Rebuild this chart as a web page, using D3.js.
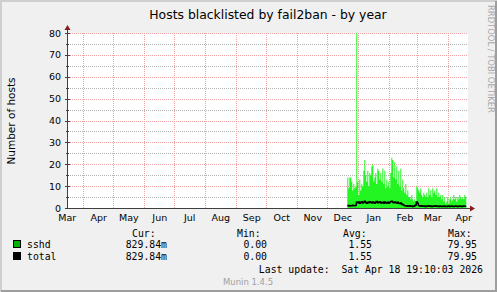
<!DOCTYPE html>
<html>
<head>
<meta charset="utf-8">
<script src="https://cdn.jsdelivr.net/npm/d3@7"></script>
<style>
  body { margin: 0; background: #f0f0f0; }
  svg { display: block; }
</style>
</head>
<body>
<div id="chart"></div>
<script>
const WIDTH = 497;
const HEIGHT = 292;
const PLOT_LEFT = 67;
const PLOT_RIGHT = 467;
const PLOT_TOP = 33;
const PLOT_BOTTOM = 208;
const SANS = "DejaVu Sans, sans-serif";
const MONO = "DejaVu Sans Mono, monospace";

// time window of the munin "by year" graph (400 days)
const startDate = new Date(2025, 2, 15, 17, 0);
const endDate = new Date(2026, 3, 19, 17, 0);
const firstSample = new Date(2025, 11, 21);

// one value per day, from firstSample on
const sshdValues = [
  14, 9, 14, 14, 12, 8, 11, 9, 10, 80,
  12, 6, 13, 8, 11, 10, 17, 22, 15, 12,
  17, 10, 16, 15, 19, 20, 12, 14, 16, 11,
  18, 17, 13, 16, 12, 18, 11, 17, 9, 13,
  10, 12, 9, 16, 23, 22, 14, 21, 13, 19,
  11, 17, 10, 18, 8, 13, 9, 7, 11, 6,
  8, 5, 5, 4, 6, 4, 3, 4, 3, 10,
  9, 8, 7, 9, 6, 5, 7, 6, 5, 7,
  5, 9, 6, 8, 5, 9, 7, 8, 6, 9,
  5, 7, 5, 6, 4, 6, 3, 5, 2, 3,
  5, 2, 4, 5, 3, 4, 6, 4, 5, 3,
  5, 4, 6, 5, 4, 5, 4, 6, 5
];
const totalValues = [
  1.0, 1.2, 0.9, 1.1, 1.0, 1.3, 1.1, 1.0, 1.2, 2.6,
  2.4, 2.8, 2.2, 2.5, 2.9, 2.3, 2.7, 3.1, 2.5, 2.2,
  2.6, 2.4, 2.9, 2.7, 2.3, 2.8, 2.5, 2.2, 2.6, 3.0,
  2.4, 2.7, 2.9, 2.3, 2.5, 2.6, 2.2, 2.8, 2.4, 2.3,
  2.6, 2.2, 2.5, 2.9, 3.1, 2.7, 2.4, 2.8, 2.5, 2.3,
  2.6, 2.2, 2.0, 2.3, 1.8, 1.6, 1.3, 1.1, 0.9, 1.0,
  0.8, 0.9, 1.0, 0.8, 0.9, 0.7, 0.8, 1.0, 1.4, 2.8,
  2.2, 1.2, 0.9, 0.8, 1.0, 0.9, 0.8, 0.9, 0.7, 0.8,
  0.9, 1.0, 0.8, 0.9, 0.7, 0.8, 0.9, 0.8, 1.0, 0.9,
  0.8, 0.7, 0.9, 0.8, 0.7, 0.8, 0.9, 0.7, 0.8, 0.7,
  0.8, 0.9, 0.7, 0.8, 0.9, 0.8, 0.7, 0.8, 0.9, 0.8,
  0.7, 0.8, 0.9, 0.8, 0.7, 0.8, 0.9, 0.8, 0.8
];

const yMajorTicks = [0, 10, 20, 30, 40, 50, 60, 70, 80];
const yMinorTicks = [5, 15, 25, 35, 45, 55, 65, 75];

const seriesNames = ["sshd", "total"];
const legendHeaders = ["Cur:", "Min:", "Avg:", "Max:"];
const legendValues = [
  ["829.84m", "0.00", "1.55", "79.95"],
  ["829.84m", "0.00", "1.55", "79.95"]
];
const lastUpdate = "Last update:  Sat Apr 18 19:10:03 2026";
const footer = "Munin 1.4.5";

const svg = d3.select("#chart").append("svg")
  .attr("width", WIDTH)
  .attr("height", HEIGHT);

// canvas with rrdtool style shading
svg.append("rect").attr("width", WIDTH).attr("height", HEIGHT).attr("fill", "#f0f0f0");
svg.append("path").attr("d", `M1,${HEIGHT} V1 H${WIDTH}`).attr("stroke", "#cfcfcf").attr("stroke-width", 2).attr("fill", "none");
svg.append("path").attr("d", `M1,${HEIGHT - 1} H${WIDTH - 1} V1`).attr("stroke", "#9e9e9e").attr("stroke-width", 2).attr("fill", "none");

const x = d3.scaleTime().domain([startDate, endDate]).range([PLOT_LEFT, PLOT_RIGHT]);
const y = d3.scaleLinear().domain([0, 80]).range([PLOT_BOTTOM, PLOT_TOP]);
const crisp = (v) => Math.round(v) + 0.5;

svg.append("rect")
  .attr("x", PLOT_LEFT).attr("y", PLOT_TOP)
  .attr("width", PLOT_RIGHT - PLOT_LEFT + 1).attr("height", PLOT_BOTTOM - PLOT_TOP)
  .attr("fill", "#ffffff");

// grid, drawn as 1px dots
const gridPink = "#f2a4a4";
const grid = svg.append("g").attr("fill", "none").attr("stroke-dasharray", "1 1");
grid.selectAll("line.minor").data(yMinorTicks).join("line")
  .attr("class", "minor")
  .attr("x1", PLOT_LEFT + 1).attr("x2", PLOT_RIGHT + 1)
  .attr("y1", (d) => crisp(y(d))).attr("y2", (d) => crisp(y(d)))
  .attr("stroke", "#b4b4b4");

const monthStarts = d3.timeMonth.range(d3.timeMonth.ceil(startDate), endDate);
grid.selectAll("line.vgrid").data(monthStarts).join("line")
  .attr("class", "vgrid")
  .attr("x1", (d) => crisp(x(d))).attr("x2", (d) => crisp(x(d)))
  .attr("y1", PLOT_TOP).attr("y2", PLOT_BOTTOM)
  .attr("stroke", gridPink);
grid.selectAll("line.major").data(yMajorTicks.slice(1)).join("line")
  .attr("class", "major")
  .attr("x1", PLOT_LEFT + 1).attr("x2", PLOT_RIGHT + 1)
  .attr("y1", (d) => crisp(y(d))).attr("y2", (d) => crisp(y(d)))
  .attr("stroke", gridPink);

// data
const makePoints = (values) => {
  const pts = values.map((v, i) => ({ date: d3.timeDay.offset(firstSample, i), value: v }));
  pts.push({ date: d3.timeDay.offset(firstSample, values.length), value: values[values.length - 1] });
  return pts;
};

const area = d3.area()
  .curve(d3.curveStepAfter)
  .x((d) => x(d.date))
  .y0(y(0))
  .y1((d) => y(d.value));

svg.append("path")
  .datum(makePoints(sshdValues))
  .attr("d", area)
  .attr("fill", "#22f522");

const line = d3.line()
  .curve(d3.curveStepAfter)
  .x((d) => x(d.date))
  .y((d) => y(d.value));

svg.append("path")
  .datum(makePoints(totalValues))
  .attr("d", line)
  .attr("fill", "none")
  .attr("stroke", "#000000")
  .attr("stroke-width", 1.4);

// axes
const axisColor = "#404040";
const arrowColor = "#8b1a1a";
svg.append("line")
  .attr("x1", PLOT_LEFT + 0.5).attr("x2", PLOT_LEFT + 0.5)
  .attr("y1", PLOT_TOP - 4).attr("y2", PLOT_BOTTOM + 0.5)
  .attr("stroke", axisColor);
svg.append("line")
  .attr("x1", PLOT_LEFT).attr("x2", PLOT_RIGHT + 4)
  .attr("y1", PLOT_BOTTOM + 0.5).attr("y2", PLOT_BOTTOM + 0.5)
  .attr("stroke", axisColor);
svg.append("path")
  .attr("d", `M${PLOT_LEFT - 2.5},${PLOT_TOP - 3} L${PLOT_LEFT + 3.5},${PLOT_TOP - 3} L${PLOT_LEFT + 0.5},${PLOT_TOP - 8} Z`)
  .attr("fill", arrowColor);
svg.append("path")
  .attr("d", `M${PLOT_RIGHT + 3},${PLOT_BOTTOM - 2.5} L${PLOT_RIGHT + 3},${PLOT_BOTTOM + 3.5} L${PLOT_RIGHT + 8},${PLOT_BOTTOM + 0.5} Z`)
  .attr("fill", arrowColor);

const yTickG = svg.append("g").attr("shape-rendering", "crispEdges").attr("stroke", axisColor);
yTickG.selectAll("line.maj").data(yMajorTicks).join("line")
  .attr("class", "maj")
  .attr("x1", PLOT_LEFT - 2).attr("x2", PLOT_LEFT + 3)
  .attr("y1", (d) => crisp(y(d))).attr("y2", (d) => crisp(y(d)));
yTickG.selectAll("line.min").data(yMinorTicks).join("line")
  .attr("class", "min")
  .attr("x1", PLOT_LEFT - 1).attr("x2", PLOT_LEFT + 2)
  .attr("y1", (d) => crisp(y(d))).attr("y2", (d) => crisp(y(d)));

svg.append("g").selectAll("text").data(yMajorTicks).join("text")
  .attr("x", PLOT_LEFT - 6)
  .attr("y", (d) => y(d) + 3.5)
  .attr("text-anchor", "end")
  .attr("font-family", SANS)
  .attr("font-size", 9.5)
  .attr("fill", "#000")
  .text((d) => d);

const labelDates = monthStarts.map((d) => d3.timeHour.offset(d3.timeDay.offset(d, 15), 12));
labelDates.unshift(new Date(2025, 2, 16, 0, 0));
svg.append("g").selectAll("text").data(labelDates).join("text")
  .attr("x", (d) => x(d))
  .attr("y", 220.5)
  .attr("text-anchor", "middle")
  .attr("font-family", SANS)
  .attr("font-size", 9.5)
  .attr("fill", "#000")
  .text((d) => d3.timeFormat("%b")(d));

// titles
svg.append("text")
  .attr("x", 268).attr("y", 18.5)
  .attr("text-anchor", "middle")
  .attr("font-family", SANS).attr("font-size", 12.4)
  .text("Hosts blacklisted by fail2ban - by year");

svg.append("text")
  .attr("transform", "translate(15,121) rotate(-90)")
  .attr("text-anchor", "middle")
  .attr("font-family", SANS).attr("font-size", 10.5)
  .text("Number of hosts");

svg.append("text")
  .attr("transform", "translate(488,5) rotate(90)")
  .attr("font-family", SANS).attr("font-size", 8.4)
  .attr("fill", "#a8a8a8")
  .text("RRDTOOL / TOBI OETIKER");

// legend
const legendColors = ["#00b000", "#000000"];
const headerX = [132, 237, 343, 448];
const valueRight = [167, 267, 372, 477];
const legend = svg.append("g").attr("font-family", MONO).attr("font-size", 9.8).attr("fill", "#000");

legend.selectAll("text.head").data(legendHeaders).join("text")
  .attr("class", "head")
  .attr("x", (d, i) => headerX[i])
  .attr("y", 237)
  .text((d) => d);

seriesNames.forEach((name, row) => {
  const rowY = 248 + row * 12;
  legend.append("rect")
    .attr("x", 13.5).attr("y", rowY - 7.5)
    .attr("width", 7).attr("height", 7)
    .attr("fill", legendColors[row])
    .attr("stroke", "#000");
  legend.append("text").attr("x", 27).attr("y", rowY).text(name);
  legend.selectAll(null).data(legendValues[row]).join("text")
    .attr("x", (d, i) => valueRight[i])
    .attr("y", rowY)
    .attr("text-anchor", "end")
    .text((d) => d);
});

legend.append("text")
  .attr("x", 483).attr("y", 272.5)
  .attr("text-anchor", "end")
  .attr("xml:space", "preserve")
  .style("white-space", "pre")
  .text(lastUpdate);

svg.append("text")
  .attr("x", 248).attr("y", 284.5)
  .attr("text-anchor", "middle")
  .attr("font-family", SANS).attr("font-size", 8.5)
  .attr("fill", "#a0a0a0")
  .text(footer);
</script>
</body>
</html>
